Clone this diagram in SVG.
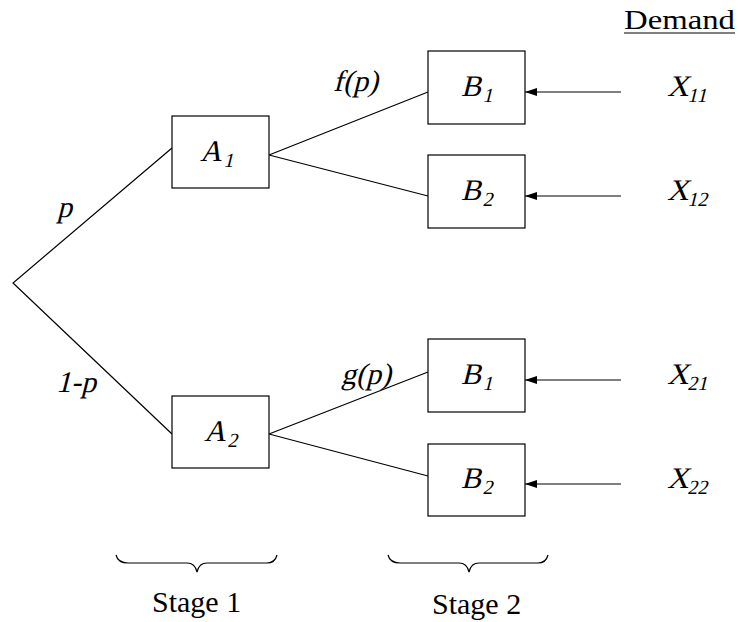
<svg xmlns="http://www.w3.org/2000/svg" width="739" height="622" viewBox="0 0 739 622">
<defs>
<style>
.box{fill:#fff;stroke:#000;stroke-width:1.2}
.ln{fill:none;stroke:#000;stroke-width:1.2}
</style>
<marker id="ah" markerWidth="12" markerHeight="10" refX="12" refY="5" orient="auto" markerUnits="userSpaceOnUse">
<path d="M0,1 L12,5 L0,9 Z" fill="#000"/>
</marker>
</defs>
<rect width="739" height="622" fill="#fff"/>
<g id="connectors">
<path class="ln" d="M172,148 L13,283 L172,434"/>
<path class="ln" d="M269,155 L428,92 M269,155 L428,196"/>
<path class="ln" d="M269,434 L428,372 M269,434 L428,476"/>
<line class="ln" x1="621" y1="92" x2="525" y2="92" marker-end="url(#ah)"/>
<line class="ln" x1="621" y1="196" x2="525" y2="196" marker-end="url(#ah)"/>
<line class="ln" x1="621" y1="380" x2="525" y2="380" marker-end="url(#ah)"/>
<line class="ln" x1="621" y1="484" x2="525" y2="484" marker-end="url(#ah)"/>
<g font-family="Liberation Serif" font-size="30" fill="#000">
<text transform="translate(57,217) skewX(-14)" font-family="Liberation Serif">p</text>
<text transform="translate(56,392) skewX(-14)" font-family="Liberation Serif">1-p</text>
<text transform="translate(333,91) skewX(-14)" font-family="Liberation Serif">f(p)</text>
<text transform="translate(341,384) skewX(-14)" font-family="Liberation Serif">g(p)</text>
</g>
</g>
<g font-family="Liberation Serif" font-size="30" fill="#000">
<g id="A1"><rect class="box" x="172" y="116" width="97" height="72"/><text transform="translate(200,161) skewX(-14)" font-family="Liberation Serif" font-size="30">A<tspan font-size="20" dx="3" dy="6">1</tspan></text></g>
<g id="A2"><rect class="box" x="172" y="396" width="97" height="72"/><text transform="translate(204,441) skewX(-14)" font-family="Liberation Serif" font-size="30">A<tspan font-size="20" dx="3" dy="6">2</tspan></text></g>
<g id="B1a"><rect class="box" x="428" y="51" width="97" height="73"/><text transform="translate(461,96) skewX(-14)" font-family="Liberation Serif" font-size="30">B<tspan font-size="20" dx="3" dy="6">1</tspan></text></g>
<g id="B2a"><rect class="box" x="428" y="155" width="97" height="73"/><text transform="translate(461,200) skewX(-14)" font-family="Liberation Serif" font-size="30">B<tspan font-size="20" dx="3" dy="6">2</tspan></text></g>
<g id="B1b"><rect class="box" x="428" y="339" width="97" height="73"/><text transform="translate(461,384) skewX(-14)" font-family="Liberation Serif" font-size="30">B<tspan font-size="20" dx="3" dy="6">1</tspan></text></g>
<g id="B2b"><rect class="box" x="428" y="444" width="97" height="72"/><text transform="translate(461,488) skewX(-14)" font-family="Liberation Serif" font-size="30">B<tspan font-size="20" dx="3" dy="6">2</tspan></text></g>
<g id="X11"><text transform="translate(667,96) skewX(-14)" font-family="Liberation Serif" font-size="30">X<tspan font-size="20" dy="6">11</tspan></text></g>
<g id="X12"><text transform="translate(667,200) skewX(-14)" font-family="Liberation Serif" font-size="30">X<tspan font-size="20" dy="6">12</tspan></text></g>
<g id="X21"><text transform="translate(667,384) skewX(-14)" font-family="Liberation Serif" font-size="30">X<tspan font-size="20" dy="6">21</tspan></text></g>
<g id="X22"><text transform="translate(667,488) skewX(-14)" font-family="Liberation Serif" font-size="30">X<tspan font-size="20" dy="6">22</tspan></text></g>
<g id="demand">
<text x="624" y="29" font-family="Liberation Serif" font-size="28" textLength="111" lengthAdjust="spacingAndGlyphs">Demand</text>
<line x1="624" y1="33" x2="735" y2="33" stroke="#000" stroke-width="1.2"/>
</g>
<g id="stage1">
<path class="ln" d="M116,555 Q118,563 128,563 L187,563 Q195,563 197,572 Q199,563 207,563 L267,563 Q275,563 277,555"/>
<text x="152" y="612" font-family="Liberation Serif" font-size="30">Stage 1</text>
</g>
<g id="stage2">
<path class="ln" d="M388,555 Q390,563 400,563 L459,563 Q467,563 469,572 Q471,563 479,563 L538,563 Q546,563 548,555"/>
<text x="432" y="614" font-family="Liberation Serif" font-size="30">Stage 2</text>
</g>
</g>
</svg>
